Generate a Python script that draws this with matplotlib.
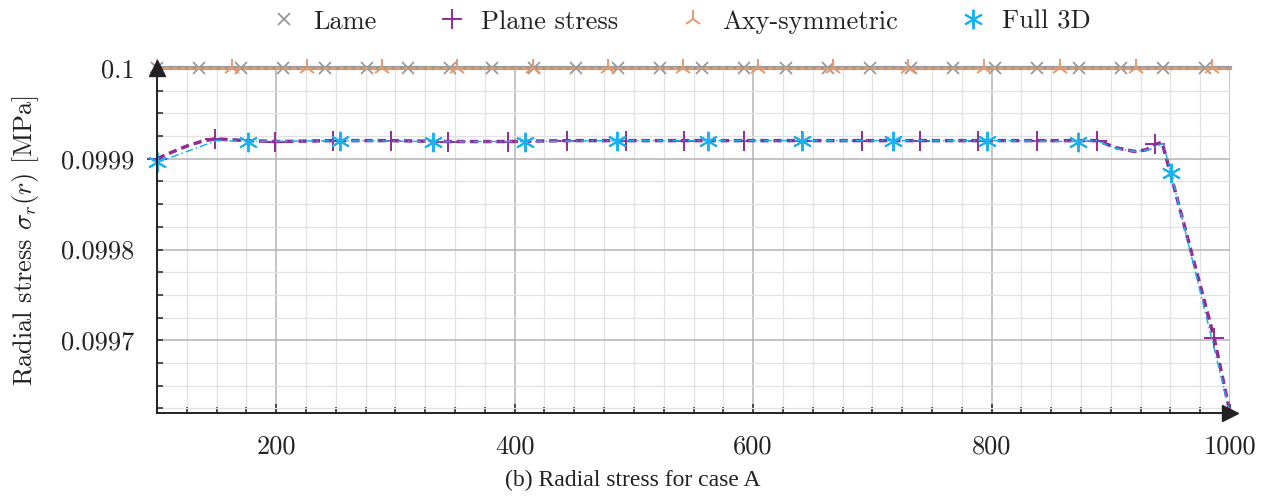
import matplotlib
matplotlib.use("Agg")
import matplotlib.pyplot as plt
from matplotlib.lines import Line2D
from matplotlib.ticker import FixedLocator, AutoMinorLocator

plt.rcParams['font.family'] = ['cmr10', 'DejaVu Serif']
plt.rcParams['mathtext.fontset'] = 'cm'
plt.rcParams['axes.formatter.use_mathtext'] = True

# radial positions [mm] and radial stress [MPa]
lame_r = [100.0, 135.2, 170.3, 205.5, 240.6, 275.8, 310.9, 346.1, 381.3, 416.4,
          451.6, 486.7, 521.9, 557.0, 592.2, 627.3, 662.5, 697.7, 732.8, 768.0,
          803.1, 838.3, 873.4, 908.6, 943.8, 978.9, 1000.0]
lame_s = [0.1] * len(lame_r)

axy_r = [100, 163, 226, 289, 352, 415, 478, 541, 604, 667, 730, 794, 857,
         921, 985, 1000]
axy_s = [0.1] * len(axy_r)

ps_r = [100, 112, 125, 137, 148.6, 175, 199, 247.6, 296, 344, 394.6, 444, 493,
        542, 592, 641, 691, 740, 789, 838, 888.6, 905, 920, 930, 937, 943, 950,
        986.6, 1000]
ps_s = [0.09990, 0.099907, 0.099914, 0.099919, 0.099922, 0.099920, 0.099919,
        0.099920, 0.099920, 0.099919, 0.099919, 0.099920, 0.099920, 0.099920,
        0.099920, 0.099920, 0.099920, 0.099920, 0.099920, 0.099920, 0.099920,
        0.099912, 0.099908, 0.099910, 0.099916, 0.099918, 0.099884, 0.099703,
        0.09962]
ps_marks = [0, 4, 6, 7, 8, 9, 10, 11, 12, 13, 14, 15, 16, 17, 18, 19, 20, 24, 27]

f3_r = [100, 150, 176, 253.5, 331.5, 408.7, 485.9, 562, 641, 717, 796, 872.5,
        888, 905, 920, 932, 944, 950.5, 1000]
f3_s = [0.099896, 0.099920, 0.099919, 0.099920, 0.099919, 0.099919, 0.099920,
        0.099920, 0.099920, 0.099920, 0.099920, 0.099919, 0.099920, 0.099911,
        0.099908, 0.099910, 0.099917, 0.099884, 0.09962]
f3_marks = [0, 2, 3, 4, 5, 6, 7, 8, 9, 10, 11, 17]

xticks = [200, 400, 600, 800, 1000]
yticks = [0.0997, 0.0998, 0.0999, 0.1]
ytick_labels = ['0.0997', '0.0998', '0.0999', '0.1']

c_lame = '#999999'
c_ps = '#922b93'
c_axy = '#e49a6c'
c_f3 = '#18b2ee'
asterisk = (6, 2, 0)
ink = '#222222'

fig = plt.figure(figsize=(12.74, 4.97), dpi=100)
ax = fig.add_axes([0.1232, 0.169, 0.8423, 0.6942])

ax.plot(lame_r, lame_s, color=c_lame, lw=3.0, marker='x', ms=9, mew=1.3,
        markevery=slice(0, -1), clip_on=False, zorder=3)
ax.plot(axy_r, axy_s, color=c_axy, lw=2.2, dashes=(0.9, 1.7),
        dash_capstyle='round', marker='2', ms=13, mew=1.4,
        markevery=slice(0, -1), clip_on=False, zorder=4)
ax.plot(ps_r, ps_s, color=c_ps, lw=2.5, dashes=(2.4, 1.4), marker='+',
        ms=14, mew=1.4, markevery=ps_marks, clip_on=False, zorder=5)
ax.plot(f3_r, f3_s, color=c_f3, lw=1.1, dashes=(5, 2, 1, 2), marker=asterisk,
        ms=14, mew=1.4, markevery=f3_marks, clip_on=False, zorder=6)

ax.set_xlim(100, 1000)
ax.set_ylim(0.09962, 0.1)

ax.xaxis.set_major_locator(FixedLocator(xticks))
ax.xaxis.set_minor_locator(AutoMinorLocator(8))
ax.yaxis.set_major_locator(FixedLocator(yticks))
ax.yaxis.set_minor_locator(AutoMinorLocator(4))
ax.set_xticklabels([str(t) for t in xticks])
ax.set_yticklabels(ytick_labels)

ax.grid(which='major', color='#b4b4b4', lw=1.1, zorder=0)
ax.grid(which='minor', color='#e2e2e2', lw=0.9, zorder=0)
ax.set_axisbelow(True)

ax.tick_params(which='both', direction='in', color=ink, width=1.1,
               labelsize=19, labelcolor=ink, pad=16)
ax.tick_params(which='major', length=6.5)
ax.tick_params(which='minor', length=4.3)
ax.tick_params(axis='y', which='major', length=4.3)
ax.tick_params(top=False, right=False)

for side in ('top', 'right'):
    ax.spines[side].set_visible(False)
for side in ('left', 'bottom'):
    ax.spines[side].set_color(ink)
    ax.spines[side].set_linewidth(1.4)
    ax.spines[side].set_zorder(7)

# axis arrow heads
ax.plot([1], [0], marker='>', ms=11, color=ink, transform=ax.transAxes,
        clip_on=False, zorder=8)
ax.plot([0], [1], marker='^', ms=11, color=ink, transform=ax.transAxes,
        clip_on=False, zorder=8)

ax.set_ylabel(r'Radial stress $\sigma_r(r)$ [MPa]', fontsize=19, color=ink)
ax.yaxis.set_label_coords(-0.108, 0.5)

handles = [
    Line2D([], [], ls='none', marker='x', ms=9, mew=1.3, color=c_lame),
    Line2D([], [], ls='none', marker='+', ms=14, mew=1.4, color=c_ps),
    Line2D([], [], ls='none', marker='2', ms=13, mew=1.4, color=c_axy),
    Line2D([], [], ls='none', marker=asterisk, ms=14, mew=1.4, color=c_f3),
]
labels = ['Lame', 'Plane stress', 'Axy-symmetric', 'Full 3D']
leg = fig.legend(handles, labels, loc='center', bbox_to_anchor=(0.5345, 0.956),
                 ncol=4, frameon=False, fontsize=19, handlelength=1.0,
                 handletextpad=0.6, columnspacing=2.35)
for t in leg.get_texts():
    t.set_color(ink)

fig.text(0.497, 0.034, '(b) Radial stress for case A', ha='center',
         va='center', fontsize=17, color=ink, family='Liberation Serif')

fig.savefig('out.png', dpi=100)
